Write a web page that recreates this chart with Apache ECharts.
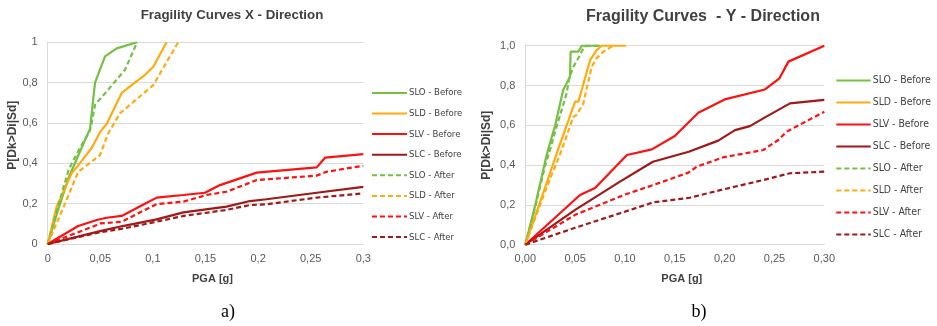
<!DOCTYPE html>
<html><head><meta charset="utf-8">
<script src="https://cdn.jsdelivr.net/npm/echarts@6/dist/echarts.min.js"></script>
<style>html,body{margin:0;padding:0;background:#fff}#c{width:937px;height:326px}</style>
</head><body><div id="c"></div>
<script>
// ---- Data: [PGA (g), P[Dk>Di|Sd]] ----
// Chart a) X - Direction
const sloBeforeA = [[0,0],[0.01,0.17],[0.02,0.33],[0.03,0.45],[0.0355,0.515],[0.0402,0.57],[0.045,0.80],[0.0545,0.93],[0.0656,0.97],[0.085,1.0]];
const sldBeforeA = [[0,0],[0.0085,0.185],[0.0228,0.35],[0.029,0.39],[0.0418,0.476],[0.05,0.557],[0.056,0.595],[0.0703,0.749],[0.0925,0.839],[0.1004,0.879],[0.113,1.0]];
const slvBeforeA = [[0,0],[0.029,0.089],[0.0466,0.119],[0.056,0.13],[0.0703,0.139],[0.0925,0.2],[0.1036,0.23],[0.129,0.243],[0.1495,0.254],[0.1638,0.292],[0.1987,0.354],[0.2557,0.38],[0.2636,0.428],[0.3,0.446]];
const slcBeforeA = [[0,0],[0.0497,0.064],[0.0713,0.089],[0.1036,0.122],[0.129,0.157],[0.17,0.185],[0.1923,0.213],[0.208,0.222],[0.2557,0.254],[0.3,0.283]];
const sloAfterA  = [[0,0],[0.01,0.19],[0.02,0.37],[0.03,0.47],[0.04,0.56],[0.0418,0.6],[0.045,0.69],[0.055,0.75],[0.0735,0.864],[0.085,1.0]];
const sldAfterA  = [[0,0],[0.0164,0.2],[0.029,0.358],[0.0355,0.383],[0.0497,0.441],[0.0576,0.549],[0.0687,0.648],[0.1004,0.788],[0.124,1.0]];
const slvAfterA  = [[0,0],[0.0466,0.094],[0.0497,0.102],[0.0703,0.11],[0.083,0.144],[0.1036,0.198],[0.129,0.21],[0.151,0.243],[0.17,0.259],[0.1987,0.317],[0.2557,0.339],[0.265,0.358],[0.3,0.388]];
const slcAfterA  = [[0,0],[0.0497,0.058],[0.0713,0.076],[0.1036,0.111],[0.129,0.139],[0.17,0.169],[0.1923,0.193],[0.208,0.197],[0.2557,0.23],[0.3,0.251]];
// Chart b) Y - Direction
const sloBeforeB = [[0,0],[0.01,0.2],[0.02,0.42],[0.023,0.48],[0.03,0.6],[0.038,0.777],[0.0415,0.811],[0.0448,0.844],[0.0455,0.97],[0.0532,0.97],[0.0566,1.0],[0.075,1.0]];
const sldBeforeB = [[0,0],[0.02,0.29],[0.033,0.48],[0.05,0.719],[0.0532,0.719],[0.0566,0.777],[0.065,0.928],[0.0716,0.978],[0.0766,1.0],[0.101,1.0]];
const slvBeforeB = [[0,0],[0.0549,0.25],[0.07,0.285],[0.102,0.451],[0.127,0.479],[0.15,0.546],[0.1736,0.663],[0.2,0.73],[0.2405,0.78],[0.255,0.836],[0.264,0.92],[0.3,1.0]];
const slcBeforeB = [[0,0],[0.05,0.175],[0.095,0.317],[0.128,0.417],[0.164,0.467],[0.1936,0.523],[0.2104,0.576],[0.2254,0.596],[0.2405,0.64],[0.2656,0.71],[0.3,0.728]];
const sloAfterB  = [[0,0],[0.01,0.19],[0.02,0.4],[0.0248,0.476],[0.03,0.57],[0.0415,0.761],[0.044,0.836],[0.0482,0.894],[0.0532,0.937],[0.0582,0.987],[0.0616,1.0],[0.075,1.0]];
const sldAfterB  = [[0,0],[0.02,0.27],[0.0365,0.476],[0.0482,0.643],[0.0515,0.652],[0.0582,0.71],[0.0666,0.894],[0.0716,0.937],[0.0783,0.97],[0.0883,1.0]];
const slvAfterB  = [[0,0],[0.05,0.15],[0.1,0.252],[0.1285,0.3],[0.1636,0.362],[0.172,0.392],[0.1987,0.439],[0.2388,0.476],[0.2538,0.526],[0.2622,0.568],[0.3,0.668]];
const slcAfterB  = [[0,0],[0.05,0.085],[0.095,0.158],[0.1285,0.213],[0.165,0.236],[0.1987,0.278],[0.2388,0.325],[0.2656,0.359],[0.3,0.367]];

const seriesNames = ['SLO - Before','SLD - Before','SLV - Before','SLC - Before','SLO - After','SLD - After','SLV - After','SLC - After'];
const xTicksA = ['0','0,05','0,1','0,15','0,2','0,25','0,3'];
const yTicksA = ['0','0,2','0,4','0,6','0,8','1'];
const xTicksB = ['0,00','0,05','0,10','0,15','0,20','0,25','0,30'];
const yTicksB = ['0,0','0,2','0,4','0,6','0,8','1,0'];
const titles = ['Fragility Curves X - Direction','Fragility Curves  - Y - Direction'];
const captions = ['a)','b)'];

const colors = ['#75bf43','#ffab0f','#ff1010','#a01818','#75bf43','#ffab0f','#ff1010','#a01818'];
const dataA = [sloBeforeA,sldBeforeA,slvBeforeA,slcBeforeA,sloAfterA,sldAfterA,slvAfterA,slcAfterA];
const dataB = [sloBeforeB,sldBeforeB,slvBeforeB,slcBeforeB,sloAfterB,sldAfterB,slvAfterB,slcAfterB];

const font = 'Liberation Sans, Arial, sans-serif';
const narrow = '"Liberation Sans Narrow", "Arial Narrow", "DejaVu Sans Condensed", sans-serif';
const labCol = '#595959';
const gridCol = '#d9d9d9';

function xAxis(gi, ticks) {
  return {type:'value', gridIndex:gi, min:0, max:0.3, interval:0.05,
    axisLine:{show:true, lineStyle:{color:gridCol, width:1}}, axisTick:{show:false}, splitLine:{show:false},
    axisLabel:{color:labCol, fontSize:11, fontFamily:font, margin:9, formatter:v=>ticks[Math.round(v/0.05)]},
    name:'PGA [g]', nameLocation:'middle', nameGap:29,
    nameTextStyle:{fontWeight:'bold', fontSize:11, color:'#404040', fontFamily:font, padding:[0,0,0,14]}};
}
function yAxis(gi, ticks, gap, pad) {
  return {type:'value', gridIndex:gi, min:0, max:1, interval:0.2,
    axisLine:{show:true, lineStyle:{color:gridCol, width:1}}, axisTick:{show:false},
    splitLine:{show:true, lineStyle:{color:gridCol, width:1}},
    axisLabel:{color:labCol, fontSize:11, fontFamily:font, margin:10, formatter:v=>ticks[Math.round(v/0.2)]},
    name:'P[Dk>Di|Sd]', nameLocation:'middle', nameGap:gap,
    nameTextStyle:{fontWeight:'bold', fontSize:12, color:'#404040', fontFamily:font, padding:pad}};
}
const series = [];
[dataA, dataB].forEach((set, gi) => {
  set.forEach((d, i) => {
    series.push({type:'line', name:seriesNames[i], xAxisIndex:gi, yAxisIndex:gi, data:d,
      symbol:'none', silent:true, animation:false, color:colors[i],
      lineStyle:{color:colors[i], width:2.2, type: i < 4 ? 'solid' : [5,3]}});
  });
});
function legend(left, top, gap, w, fs) {
  return {orient:'vertical', left:left, top:top, padding:0, itemGap:gap, itemWidth:w, itemHeight:14,
    data:seriesNames, selectedMode:false, itemStyle:{opacity:0},
    textStyle:{color:'#404040', fontSize:fs, fontFamily:narrow, padding:[0,0,0,-3]}};
}
const chart = echarts.init(document.getElementById('c'));
chart.setOption({
  backgroundColor:'#fff',
  animation:false,
  title:[
    {text:titles[0], left:232, top:9, textAlign:'center', padding:0, textStyle:{fontSize:13.3, fontWeight:'bold', color:'#404040', fontFamily:font}},
    {text:titles[1], left:703, top:9, textAlign:'center', padding:0, textStyle:{fontSize:16, fontWeight:'bold', color:'#404040', fontFamily:font}},
    {text:captions[0], left:228, top:303, textAlign:'center', padding:0, textStyle:{fontSize:18, fontWeight:'normal', color:'#000', fontFamily:'Liberation Serif, Times New Roman, serif'}},
    {text:captions[1], left:699, top:303, textAlign:'center', padding:0, textStyle:{fontSize:18, fontWeight:'normal', color:'#000', fontFamily:'Liberation Serif, Times New Roman, serif'}}
  ],
  grid:[
    {left:47.7, top:42.3, width:315.6, height:201.7, containLabel:false},
    {left:525.3, top:45.7, width:299, height:199, containLabel:false}
  ],
  xAxis:[xAxis(0, xTicksA), xAxis(1, xTicksB)],
  yAxis:[yAxis(0, yTicksA, 29, [0,0,0,16]), yAxis(1, yTicksB, 33, [0,0,0,0])],
  legend:[legend(371, 87.3, 9.4, 35, 9.5), legend(835.3, 74.8, 10.8, 34.4, 10.4)],
  series:series
});
</script></body></html>
